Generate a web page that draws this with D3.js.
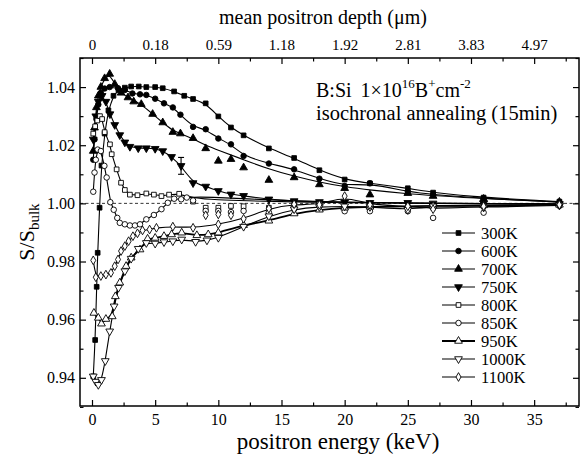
<!DOCTYPE html>
<html>
<head>
<meta charset="utf-8">
<script src="https://cdn.jsdelivr.net/npm/d3@7"></script>
<style>
  body { margin: 0; background: #fff; }
  svg { display: block; }
  svg text { font-family: "Liberation Serif", "DejaVu Serif", "Noto Serif", Tinos, "Nimbus Roman", FreeSerif, "Times New Roman", Times, serif; }
</style>
</head>
<body>
<script>
// temperatures shown in the legend
const temps = ["300K", "600K", "700K", "750K", "800K", "850K", "950K", "1000K", "1100K"];

// tick values / labels
const energyTicks = [0, 5, 10, 15, 20, 25, 30, 35];
const energyMinor = [2.5, 7.5, 12.5, 17.5, 22.5, 27.5, 32.5, 37.5];
const depthLabels = ["0", "0.18", "0.59", "1.18", "1.92", "2.81", "3.83", "4.97"];
const sTicks = [0.94, 0.96, 0.98, 1.00, 1.02, 1.04];
const sMinor = [0.93, 0.95, 0.97, 0.99, 1.01, 1.03, 1.05];

// measured points [energy keV, S/Sbulk]
const p300 = [[0.1,0.9405],[0.25,0.953],[0.37,0.9713],[0.45,0.983],[0.6,0.9985],[0.75,1.013],[1.0,1.024],[1.3,1.032],[1.7,1.037],[2.1,1.039],[2.6,1.0398],[3.1,1.0402],[3.7,1.0402],[4.3,1.040],[5.0,1.040],[5.6,1.0396],[6.5,1.0385],[7.3,1.037],[8,1.0359],[9,1.0344],[10,1.0299],[11,1.0261],[12,1.0234],[14,1.0189],[16,1.0156],[18,1.0114],[20,1.0082],[22,1.0069],[25,1.0052],[27,1.0037],[31,1.002],[37,1.0006]];
const p600 = [[0.1,1.0150],[0.2,1.0220],[0.35,1.0290],[0.5,1.0340],[0.7,1.0380],[1.0,1.0395],[1.4,1.0400],[2.06,1.0396],[2.6,1.0390],[3.2,1.0378],[3.8,1.0375],[4.3,1.0373],[5.0,1.0360],[5.7,1.0344],[6.4,1.0330],[7.0,1.0305],[8,1.0263],[9,1.0255],[10,1.0223],[11,1.0203],[12,1.0163],[14,1.0137],[16,1.0117],[18,1.0085],[20,1.0060],[22,1.0069],[25,1.0040],[27,1.0030],[31,1.0017],[37,1.0004]];
const p700 = [[0.1,1.0180],[0.2,1.0260],[0.35,1.0330],[0.5,1.0370],[0.7,1.0400],[1.0,1.0430],[1.4,1.0445],[1.8,1.0410],[2.3,1.0380],[2.85,1.0364],[3.3,1.0350],[3.9,1.0341],[4.8,1.0307],[5.6,1.0278],[6.4,1.0245],[7.0,1.0240],[8,1.0224],[9,1.0189],[10,1.0146],[11,1.0152],[12,1.0123],[14,1.0080],[16,1.0089],[18,1.0065],[20,1.0052],[22,1.0030],[25,1.0035],[27,1.0025],[31,1.0015],[37,1.0005]];
const p750 = [[0.1,1.0220],[0.3,1.0300],[0.5,1.0350],[0.8,1.0370],[1.1,1.0350],[1.42,1.0307],[1.8,1.0270],[2.2,1.0235],[2.6,1.0210],[3.0,1.0195],[3.66,1.0190],[4.3,1.0190],[5.0,1.0188],[5.6,1.0180],[6.3,1.0160],[7.05,1.0129],[8,1.0070],[9,1.0058],[10,1.0043],[11,1.0031],[12,1.0026],[14,1.0014],[16,1.0008],[18,1.0005],[20,1.0004],[22,1.0002],[25,1.0002],[27,1.0000],[31,1.0000],[37,0.9998]];
const p800 = [[0.1,1.0240],[0.25,1.0265],[0.42,1.0285],[0.63,1.0300],[0.8,1.0290],[1.0,1.0245],[1.42,1.0203],[1.56,1.0169],[1.95,1.0117],[2.3,1.0071],[2.6,1.0046],[3.0,1.0030],[3.6,1.0028],[4.3,1.0034],[4.9,1.0030],[5.5,1.0025],[6.1,1.0030],[6.9,1.0033],[8,1.0006],[9,0.9985],[10,0.9985],[11,0.9991],[12,0.9990],[14,0.9985],[16,0.9995],[18,0.9998],[20,0.9985],[22,0.9990],[25,0.9988],[27,0.9985],[31,0.9992],[37,0.9996]];
const p850 = [[0.1,1.0040],[0.2,1.0106],[0.3,1.0150],[0.45,1.0185],[0.7,1.0180],[0.98,1.0129],[1.16,1.0089],[1.45,1.0004],[1.72,0.9978],[2.0,0.9950],[2.2,0.9933],[2.6,0.9928],[3.0,0.9924],[3.4,0.9924],[3.8,0.9928],[4.3,0.9945],[4.9,0.9960],[5.5,0.9980],[6.0,1.0002],[6.5,1.0016],[7.06,1.0014],[7.5,1.0020],[8,1.0010],[9,0.9974],[10,0.9974],[11,0.9970],[12,0.9974],[14,0.9969],[16,0.9980],[18,0.9990],[20,0.9973],[22,0.9973],[25,0.9973],[27,0.9950],[31,0.9968],[37,0.9991]];
const p950 = [[0.15,0.9623],[0.5,0.9606],[0.75,0.9586],[1.1,0.9602],[1.6,0.9611],[1.85,0.9680],[2.2,0.9727],[2.7,0.9784],[3.1,0.9813],[3.8,0.9841],[4.4,0.9878],[5.0,0.9881],[5.7,0.9887],[6.3,0.9893],[7.1,0.9899],[8.3,0.9890],[9.2,0.9893],[10,0.9899],[12,0.9925],[14,0.9940],[16,0.9965],[18,0.9978],[20,0.9985],[22,0.9988],[25,0.9990],[27,0.9991],[31,0.9993],[37,0.9995]];
const p1000 = [[0.1,0.9405],[0.3,0.9387],[0.5,0.9376],[0.75,0.9393],[1.05,0.9458],[1.4,0.9560],[1.75,0.9646],[2.1,0.9710],[2.6,0.9767],[3.1,0.9810],[3.66,0.9844],[4.3,0.9864],[5.0,0.9862],[5.7,0.9867],[6.4,0.9870],[7.1,0.9876],[8.2,0.9868],[9.1,0.9873],[10,0.9882],[12,0.9920],[14,0.9956],[16,0.9980],[18,0.9988],[20,0.9990],[22,0.9988],[25,0.9978],[27,0.9990],[31,0.9986],[37,0.9993]];
const p1100 = [[0.1,0.9804],[0.3,0.9746],[0.7,0.9750],[1.1,0.9755],[1.5,0.9761],[1.8,0.9784],[2.06,0.9807],[2.3,0.9836],[2.6,0.9853],[2.9,0.9870],[3.24,0.9887],[3.6,0.9897],[4.0,0.9907],[4.56,0.9910],[5.1,0.9916],[6.4,0.9920],[8.0,0.9916],[10,0.9928],[12,0.9947],[14,0.9982],[16,0.9997],[18,0.9995],[20,1.0025],[22,0.9995],[25,0.9990],[27,0.9980],[31,0.9990],[37,0.9995]];
const o1100 = [[9,0.9959],[10,0.9962],[11,0.9959]];  // stray diamonds below the 1.00 cluster

// fitted curves that do not go through the scattered points
const f700 = [[0.1,1.0180],[0.2,1.0260],[0.35,1.0330],[0.5,1.0370],[0.7,1.0400],[1.0,1.0430],[1.4,1.0445],[1.8,1.0410],[2.3,1.0380],[2.85,1.0364],[3.9,1.0341],[4.8,1.0307],[5.6,1.0278],[6.4,1.0250],[7.0,1.0240],[8,1.0222],[9,1.0200],[10,1.0183],[12,1.0150],[14,1.0118],[16,1.0093],[18,1.0073],[20,1.0057],[22,1.0046],[25,1.0033],[27,1.0027],[31,1.0016],[37,1.0005]];
const f800 = [[0.1,1.0240],[0.25,1.0265],[0.42,1.0285],[0.63,1.0300],[0.8,1.0290],[1.0,1.0245],[1.42,1.0203],[1.56,1.0169],[1.95,1.0117],[2.3,1.0071],[2.6,1.0046],[3.0,1.0030],[3.6,1.0028],[4.3,1.0034],[4.9,1.0030],[5.5,1.0025],[6.1,1.0030],[6.9,1.0033],[8,1.0018],[10,1.0012],[12,1.0009],[16,1.0005],[20,1.0002],[25,1.0000],[31,0.9999],[37,0.9998]];
const f850 = [[0.1,1.0040],[0.2,1.0106],[0.3,1.0150],[0.45,1.0185],[0.7,1.0180],[0.98,1.0129],[1.16,1.0089],[1.45,1.0004],[1.72,0.9978],[2.0,0.9950],[2.2,0.9933],[2.6,0.9928],[3.0,0.9924],[3.4,0.9924],[3.8,0.9928],[4.3,0.9945],[4.9,0.9960],[5.5,0.9980],[6.0,1.0002],[6.5,1.0016],[7.06,1.0014],[7.5,1.0020],[8.5,1.0022],[10,1.0020],[12,1.0016],[16,1.0008],[20,1.0004],[25,1.0001],[31,0.9999],[37,0.9998]];

// error bar on the 750K curve [energy, S, half height]
const errBar = [[7.05, 1.0129, 0.0029]];

const series = [
  {name: temps[0], sym: "square",   filled: true,  pts: p300,  fit: p300},
  {name: temps[1], sym: "circle",   filled: true,  pts: p600,  fit: p600},
  {name: temps[2], sym: "triUp",    filled: true,  pts: p700,  fit: f700},
  {name: temps[3], sym: "triDown",  filled: true,  pts: p750,  fit: p750},
  {name: temps[4], sym: "square",   filled: false, pts: p800,  fit: f800},
  {name: temps[5], sym: "circle",   filled: false, pts: p850,  fit: f850},
  {name: temps[6], sym: "triUp",    filled: false, pts: p950,  fit: p950, thick: true},
  {name: temps[7], sym: "triDown",  filled: false, pts: p1000, fit: p1000},
  {name: temps[8], sym: "diamond",  filled: false, pts: p1100.concat(o1100), fit: p1100}
];

const W = 580, H = 460;
const svg = d3.select('body').append('svg')
  .attr('width', W)
  .attr('height', H);

const x = d3.scaleLinear().domain([-0.95, 38.55]).range([80, 579]);
const y = d3.scaleLinear().domain([0.9303, 1.05]).range([406, 58]);

const symType = {
  square: d3.symbolSquare, circle: d3.symbolCircle,
  triUp: d3.symbolTriangle, triDown: d3.symbolTriangle, diamond: d3.symbolDiamond
};
const symSize = {square: 22, circle: 24, triUp: 26, triDown: 26, diamond: 22};
function marker(s) {
  return d3.symbol().type(symType[s]).size(symSize[s])();
}

// axes (ticks point inward)
function styleAxis(g) {
  g.attr('font-family', null);
  g.select('.domain').remove();
  g.selectAll('line').attr('stroke', '#000').attr('stroke-width', 1.2);
  g.selectAll('text').attr('fill', '#000');
}

svg.append('g').attr('transform', 'translate(0,406)')
  .call(d3.axisBottom(x).tickValues(energyTicks).tickSizeInner(-6).tickSizeOuter(0).tickPadding(8))
  .call(styleAxis)
  .selectAll('text').attr('font-size', 16);
svg.append('g').attr('transform', 'translate(0,406)')
  .call(d3.axisBottom(x).tickValues(energyMinor).tickSizeInner(-3.5).tickSizeOuter(0).tickFormat(''))
  .call(styleAxis);

svg.append('g').attr('transform', 'translate(0,58)')
  .call(d3.axisTop(x).tickValues(energyTicks).tickSizeInner(-6).tickSizeOuter(0).tickPadding(8)
    .tickFormat((d, i) => depthLabels[i]))
  .call(styleAxis)
  .selectAll('text').attr('font-size', 15);
svg.append('g').attr('transform', 'translate(0,58)')
  .call(d3.axisTop(x).tickValues(energyMinor).tickSizeInner(-3.5).tickSizeOuter(0).tickFormat(''))
  .call(styleAxis);

svg.append('g').attr('transform', 'translate(80,0)')
  .call(d3.axisLeft(y).tickValues(sTicks).tickSizeInner(-6).tickSizeOuter(0).tickPadding(5)
    .tickFormat(d3.format('.2f')))
  .call(styleAxis)
  .selectAll('text').attr('font-size', 16);
svg.append('g').attr('transform', 'translate(80,0)')
  .call(d3.axisLeft(y).tickValues(sMinor).tickSizeInner(-3.5).tickSizeOuter(0).tickFormat(''))
  .call(styleAxis);

svg.append('g').attr('transform', 'translate(579,0)')
  .call(d3.axisRight(y).tickValues(sTicks).tickSizeInner(-6).tickSizeOuter(0).tickFormat(''))
  .call(styleAxis);
svg.append('g').attr('transform', 'translate(579,0)')
  .call(d3.axisRight(y).tickValues(sMinor).tickSizeInner(-3.5).tickSizeOuter(0).tickFormat(''))
  .call(styleAxis);

// frame
svg.append('rect')
  .attr('x', x.range()[0]).attr('y', y.range()[1])
  .attr('width', x.range()[1] - x.range()[0])
  .attr('height', y.range()[0] - y.range()[1])
  .attr('fill', 'none').attr('stroke', '#000').attr('stroke-width', 1.5);

// dashed reference line at S = 1
svg.append('line')
  .attr('x1', x.range()[0]).attr('x2', x.range()[1])
  .attr('y1', y(1)).attr('y2', y(1))
  .attr('stroke', '#000').attr('stroke-width', 0.8)
  .attr('stroke-dasharray', '3,2.5');

// curves
const line = d3.line()
  .x(d => x(d[0]))
  .y(d => y(d[1]))
  .curve(d3.curveBasis);

svg.append('g').selectAll('path')
  .data(series)
  .enter()
  .append('path')
  .attr('d', d => line(d.fit))
  .attr('fill', 'none')
  .attr('stroke', '#000')
  .attr('stroke-width', d => d.thick ? 1.8 : 1.1);

// error bar
const eb = svg.append('g').attr('stroke', '#000').attr('stroke-width', 1.1);
errBar.forEach(d => {
  eb.append('line').attr('x1', x(d[0])).attr('x2', x(d[0]))
    .attr('y1', y(d[1] - d[2])).attr('y2', y(d[1] + d[2]));
  [d[1] - d[2], d[1] + d[2]].forEach(v => {
    eb.append('line').attr('x1', x(d[0]) - 3).attr('x2', x(d[0]) + 3)
      .attr('y1', y(v)).attr('y2', y(v));
  });
});

// markers
series.forEach(s => {
  svg.append('g').selectAll('path')
    .data(s.pts)
    .enter()
    .append('path')
    .attr('d', marker(s.sym))
    .attr('transform', d => `translate(${x(d[0])},${y(d[1])})` + (s.sym === 'triDown' ? ' rotate(180)' : ''))
    .attr('fill', s.filled ? '#000' : '#fff')
    .attr('stroke', '#000')
    .attr('stroke-width', 0.9);
});

// legend
const legY = d3.scalePoint().domain(temps).range([233, 377]);
const leg = svg.append('g');
series.forEach(s => {
  const yy = legY(s.name);
  leg.append('line').attr('x1', 442).attr('x2', 475).attr('y1', yy).attr('y2', yy)
    .attr('stroke', '#000').attr('stroke-width', s.thick ? 2 : 1.2);
  leg.append('path').attr('d', marker(s.sym))
    .attr('transform', `translate(458.5,${yy})` + (s.sym === 'triDown' ? ' rotate(180)' : ''))
    .attr('fill', s.filled ? '#000' : '#fff')
    .attr('stroke', '#000').attr('stroke-width', 0.9);
  leg.append('text').attr('x', 481).attr('y', yy + 5.5)
    .attr('font-size', 16.5).text(s.name);
});

// titles
svg.append('text').attr('x', 323).attr('y', 24)
  .attr('text-anchor', 'middle').attr('font-size', 20)
  .text('mean positron depth (\u03bcm)');

svg.append('text').attr('x', 338).attr('y', 449)
  .attr('text-anchor', 'middle').attr('font-size', 23)
  .text('positron energy (keV)');

const yt = svg.append('text')
  .attr('transform', 'translate(34,232) rotate(-90)')
  .attr('text-anchor', 'middle').attr('font-size', 22);
yt.append('tspan').text('S/S');
yt.append('tspan').attr('dy', 5).attr('font-size', 15).text('bulk');

// annotation
const a1 = svg.append('text').attr('x', 316).attr('y', 97).attr('font-size', 20);
a1.append('tspan').text('B:Si');
a1.append('tspan').attr('dx', 9).text('1\u00d710');
a1.append('tspan').attr('dy', -9).attr('font-size', 13).text('16');
a1.append('tspan').attr('dy', 9).text('B');
a1.append('tspan').attr('dy', -9).attr('font-size', 13).text('+');
a1.append('tspan').attr('dy', 9).text('cm');
a1.append('tspan').attr('dy', -9).attr('font-size', 13).text('-2');

svg.append('text').attr('x', 316).attr('y', 120).attr('font-size', 20.5)
  .text('isochronal annealing (15min)');
</script>
</body>
</html>
